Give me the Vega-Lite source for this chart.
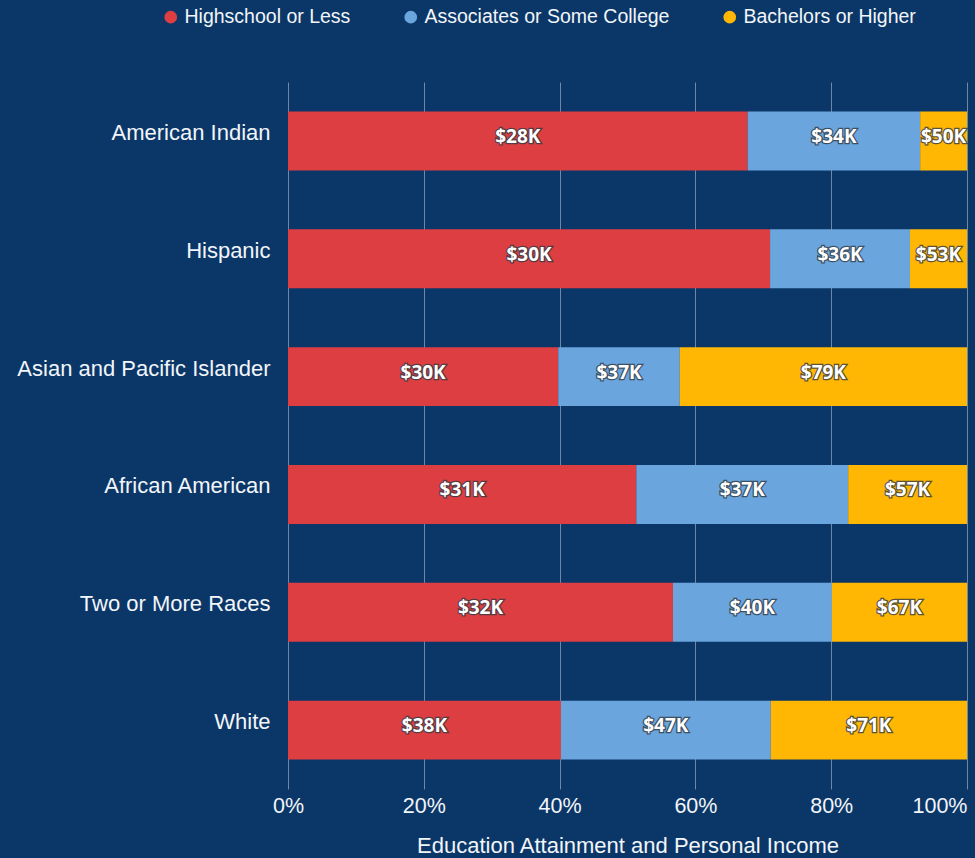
{
  "$schema": "https://vega.github.io/schema/vega-lite/v6.json",
  "width": 679,
  "height": 707,
  "autosize": {"type": "none"},
  "padding": {"left": 288, "top": 82, "right": 8, "bottom": 69},
  "background": "#0b3768",
  "config": {
    "view": {"stroke": null},
    "font": "Liberation Sans"
  },
  "data": {
    "values": [
      {"group": "American Indian", "edu": "Highschool or Less", "order": 1, "share": 67.7, "income": "$28K"},
      {"group": "American Indian", "edu": "Associates or Some College", "order": 2, "share": 25.4, "income": "$34K"},
      {"group": "American Indian", "edu": "Bachelors or Higher", "order": 3, "share": 6.9, "income": "$50K"},
      {"group": "Hispanic", "edu": "Highschool or Less", "order": 1, "share": 71.0, "income": "$30K"},
      {"group": "Hispanic", "edu": "Associates or Some College", "order": 2, "share": 20.6, "income": "$36K"},
      {"group": "Hispanic", "edu": "Bachelors or Higher", "order": 3, "share": 8.4, "income": "$53K"},
      {"group": "Asian and Pacific Islander", "edu": "Highschool or Less", "order": 1, "share": 39.8, "income": "$30K"},
      {"group": "Asian and Pacific Islander", "edu": "Associates or Some College", "order": 2, "share": 17.9, "income": "$37K"},
      {"group": "Asian and Pacific Islander", "edu": "Bachelors or Higher", "order": 3, "share": 42.3, "income": "$79K"},
      {"group": "African American", "edu": "Highschool or Less", "order": 1, "share": 51.3, "income": "$31K"},
      {"group": "African American", "edu": "Associates or Some College", "order": 2, "share": 31.2, "income": "$37K"},
      {"group": "African American", "edu": "Bachelors or Higher", "order": 3, "share": 17.5, "income": "$57K"},
      {"group": "Two or More Races", "edu": "Highschool or Less", "order": 1, "share": 56.7, "income": "$32K"},
      {"group": "Two or More Races", "edu": "Associates or Some College", "order": 2, "share": 23.4, "income": "$40K"},
      {"group": "Two or More Races", "edu": "Bachelors or Higher", "order": 3, "share": 19.9, "income": "$67K"},
      {"group": "White", "edu": "Highschool or Less", "order": 1, "share": 40.2, "income": "$38K"},
      {"group": "White", "edu": "Associates or Some College", "order": 2, "share": 30.9, "income": "$47K"},
      {"group": "White", "edu": "Bachelors or Higher", "order": 3, "share": 28.9, "income": "$71K"}
    ]
  },
  "transform": [
    {"stack": "share", "groupby": ["group"], "sort": [{"field": "order"}], "offset": "normalize", "as": ["x0", "x1"]},
    {"calculate": "(datum.x0 + datum.x1) / 2", "as": "xm"}
  ],
  "encoding": {
    "y": {
      "field": "group",
      "type": "nominal",
      "sort": ["American Indian", "Hispanic", "Asian and Pacific Islander", "African American", "Two or More Races", "White"],
      "scale": {"paddingInner": 0.5, "paddingOuter": 0.25},
      "axis": {
        "title": null,
        "domain": false,
        "ticks": false,
        "labelFontSize": 22,
        "labelColor": "#f2f5f9",
        "labelPadding": 18,
        "labelOffset": -8,
        "labelLimit": 0,
        "labelFont": "Liberation Sans"
      }
    }
  },
  "layer": [
    {
      "mark": {"type": "bar"},
      "encoding": {
        "x": {
          "field": "x0",
          "type": "quantitative",
          "scale": {"domain": [0, 1], "nice": false},
          "axis": {
            "format": ".0%",
            "values": [0, 0.2, 0.4, 0.6, 0.8, 1],
            "title": "Education Attainment and Personal Income",
            "titleFontSize": 22,
            "titleFontWeight": "normal",
            "titleColor": "#f2f5f9",
            "titleFont": "Liberation Sans",
            "titlePadding": 19,
            "labelFontSize": 21.5,
            "labelColor": "#f2f5f9",
            "labelPadding": 6,
            "labelFont": "Liberation Sans",
            "labelFlush": false,
            "labelAlign": {"condition": {"test": "datum.value >= 1", "value": "right"}, "value": "center"},
            "domain": false,
            "ticks": false,
            "grid": true,
            "gridColor": "#8a9bb3",
            "gridOpacity": 0.8,
            "gridWidth": 1
          }
        },
        "x2": {"field": "x1"},
        "color": {
          "field": "edu",
          "type": "nominal",
          "sort": ["Highschool or Less", "Associates or Some College", "Bachelors or Higher"],
          "scale": {
            "domain": ["Highschool or Less", "Associates or Some College", "Bachelors or Higher"],
            "range": ["#dd3e42", "#6aa6dd", "#ffb703"]
          },
          "legend": {
            "title": null,
            "orient": "none",
            "direction": "horizontal",
            "legendX": -127,
            "legendY": -75,
            "symbolType": "circle",
            "symbolSize": 160,
            "symbolStrokeWidth": 0,
            "labelFontSize": 19.5,
            "labelColor": "#f2f5f9",
            "labelFont": "Liberation Sans",
            "labelLimit": 0,
            "labelOffset": 4,
            "columnPadding": 50
          }
        }
      }
    },
    {
      "mark": {"type": "text", "font": "Open Sans", "fontWeight": "bold", "fontSize": 19, "dy": -4, "stroke": "#333a44", "strokeWidth": 2.5, "fill": "#333a44", "opacity": 0.8},
      "encoding": {
        "x": {"field": "xm", "type": "quantitative"},
        "text": {"field": "income"}
      }
    },
    {
      "mark": {"type": "text", "font": "Open Sans", "fontWeight": "bold", "fontSize": 19, "dy": -4, "fill": "#ffffff"},
      "encoding": {
        "x": {"field": "xm", "type": "quantitative"},
        "text": {"field": "income"}
      }
    }
  ]
}
